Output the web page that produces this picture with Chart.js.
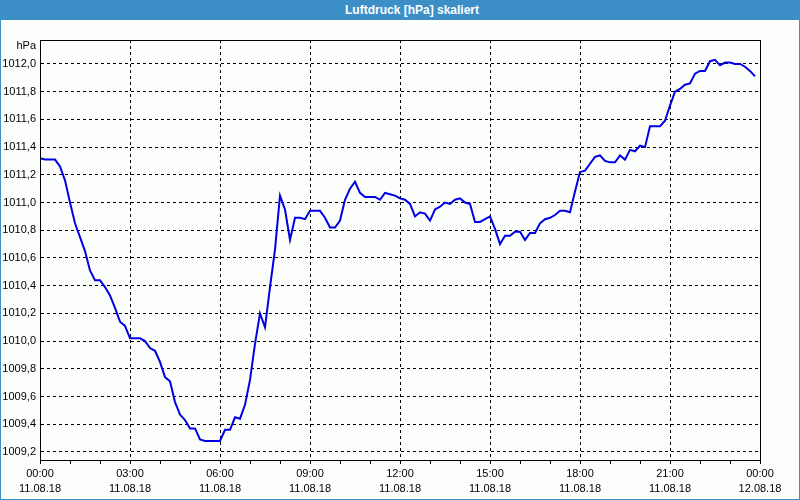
<!DOCTYPE html>
<html lang="de">
<head>
  <meta charset="UTF-8">
  <title>Luftdruck [hPa] skaliert</title>
  <script src="https://cdn.jsdelivr.net/npm/chart.js"></script>
  <style>
    body {
      margin: 0;
      background: #fcfefc;
    }
    #frame {
      position: relative;
      width: 798px;
      height: 499px;
      border: 1px solid #3c8fc6;
      border-top: none;
      background: #fcfefc;
    }
    #titleBar {
      position: absolute;
      left: -1px;
      top: 0;
      width: 776px;
      padding-left: 24px;
      height: 20px;
      line-height: 20px;
      background: #3c8fc6;
      color: white;
      font-family: "Liberation Sans", sans-serif;
      font-weight: bold;
      font-size: 12px;
      text-align: center;
    }
    #chartBox {
      position: absolute;
      left: -1px;
      top: 0;
      width: 800px;
      height: 500px;
    }
  </style>
</head>
<body>
  <div id="frame">
    <div id="chartBox"><canvas id="pressureChart"></canvas></div>
    <div id="titleBar">Luftdruck [hPa] skaliert</div>
  </div>

<script>
// Messwerte alle 10 Minuten ab 11.08.18 00:00
const stepMinutes = 10;
const pressure = [
  1011.32, 1011.31, 1011.31, 1011.31, 1011.26, 1011.16, 1011.00, 1010.85, 1010.75, 1010.65,
  1010.51, 1010.44, 1010.44, 1010.39, 1010.33, 1010.24, 1010.14, 1010.11, 1010.02, 1010.02,
  1010.02, 1010.00, 1009.95, 1009.93, 1009.85, 1009.74, 1009.71, 1009.56, 1009.47, 1009.43,
  1009.37, 1009.37, 1009.29, 1009.28, 1009.28, 1009.28, 1009.28, 1009.36, 1009.36, 1009.45,
  1009.44, 1009.54, 1009.72, 1009.98, 1010.20, 1010.10, 1010.39, 1010.66, 1011.05, 1010.95,
  1010.73, 1010.89, 1010.89, 1010.88, 1010.94, 1010.94, 1010.94, 1010.89, 1010.82, 1010.82,
  1010.87, 1011.02, 1011.10, 1011.15, 1011.07, 1011.04, 1011.04, 1011.04, 1011.02, 1011.07,
  1011.06, 1011.05, 1011.03, 1011.02, 1010.99, 1010.90, 1010.93, 1010.92, 1010.87, 1010.95,
  1010.97, 1011.00, 1010.99, 1011.02, 1011.03, 1011.00, 1010.99, 1010.86, 1010.86, 1010.88,
  1010.90, 1010.81, 1010.70, 1010.76, 1010.76, 1010.79, 1010.79, 1010.73, 1010.78, 1010.78,
  1010.85, 1010.88, 1010.89, 1010.91, 1010.94, 1010.94, 1010.93, 1011.08, 1011.22, 1011.23,
  1011.28, 1011.33, 1011.34, 1011.30, 1011.29, 1011.29, 1011.34, 1011.31, 1011.38, 1011.37,
  1011.41, 1011.40, 1011.55, 1011.55, 1011.55, 1011.59, 1011.70, 1011.80, 1011.82, 1011.85,
  1011.86, 1011.93, 1011.95, 1011.95, 1012.02, 1012.03, 1011.99, 1012.01, 1012.01, 1012.00,
  1012.00, 1011.98, 1011.95, 1011.91
];

const timeLabels = ['00:00', '03:00', '06:00', '09:00', '12:00', '15:00', '18:00', '21:00', '00:00'];
const dateLabels = ['11.08.18', '11.08.18', '11.08.18', '11.08.18', '11.08.18', '11.08.18', '11.08.18', '11.08.18', '12.08.18'];
const yMin = 1009.142;
const yMax = 1012.173;
const yStep = 0.2;
const unitLabel = 'hPa';

const points = pressure.map((v, i) => ({ x: i * stepMinutes / 60, y: v }));

// schwarzer Rahmen um die Zeichenfläche + Einheit oben links
const boxPlugin = {
  id: 'plotBox',
  afterDraw(chart) {
    const a = chart.chartArea;
    const ctx = chart.ctx;
    ctx.save();
    ctx.setLineDash([]);
    ctx.strokeStyle = '#000';
    ctx.lineWidth = 1;
    ctx.strokeRect(a.left + 0.5, a.top + 0.5, a.right - a.left, a.bottom - a.top);
    ctx.fillStyle = '#000';
    ctx.font = '11px "Liberation Sans", sans-serif';
    ctx.textAlign = 'right';
    ctx.textBaseline = 'middle';
    ctx.fillText(unitLabel, a.left - 4, a.top + 6);
    ctx.restore();
  }
};

const ctx = document.getElementById('pressureChart').getContext('2d');
new Chart(ctx, {
  type: 'line',
  data: {
    datasets: [{
      data: points,
      borderColor: '#0000e6',
      borderWidth: 2,
      pointRadius: 0,
      tension: 0,
      fill: false
    }]
  },
  options: {
    responsive: true,
    maintainAspectRatio: false,
    animation: false,
    layout: { padding: { left: 0, right: 40, top: 40, bottom: 0 } },
    plugins: {
      legend: { display: false },
      title: { display: false },
      tooltip: { enabled: false }
    },
    scales: {
      x: {
        type: 'linear',
        min: 0,
        max: 24,
        afterFit: (scale) => { scale.height = 40; },
        ticks: {
          stepSize: 1,
          autoSkip: false,
          maxRotation: 0,
          minRotation: 0,
          padding: 3,
          color: '#000',
          font: { family: '"Liberation Sans", sans-serif', size: 11, lineHeight: 1.35 },
          callback: (v) => {
            if (v % 3 !== 0) return '';
            const k = v / 3;
            return [timeLabels[k], dateLabels[k]];
          }
        },
        grid: {
          color: (c) => (c.tick && c.tick.value % 3 === 0 && c.tick.value !== 0 && c.tick.value !== 24) ? '#000' : 'rgba(0,0,0,0)',
          tickColor: '#000',
          tickBorderDash: [],
          tickLength: 4,
          lineWidth: 1
        },
        border: { display: true, color: '#000', width: 1, dash: [3, 3] }
      },
      y: {
        min: yMin,
        max: yMax,
        afterFit: (scale) => { scale.width = 40; },
        ticks: {
          stepSize: yStep,
          includeBounds: false,
          padding: 4,
          color: '#000',
          font: { family: '"Liberation Sans", sans-serif', size: 11 },
          callback: (v) => v.toFixed(1).replace('.', ',')
        },
        grid: {
          color: '#000',
          drawTicks: false,
          lineWidth: 1
        },
        border: { display: true, color: '#000', width: 1, dash: [3, 3] }
      }
    }
  },
  plugins: [boxPlugin]
});
</script>
</body>
</html>
